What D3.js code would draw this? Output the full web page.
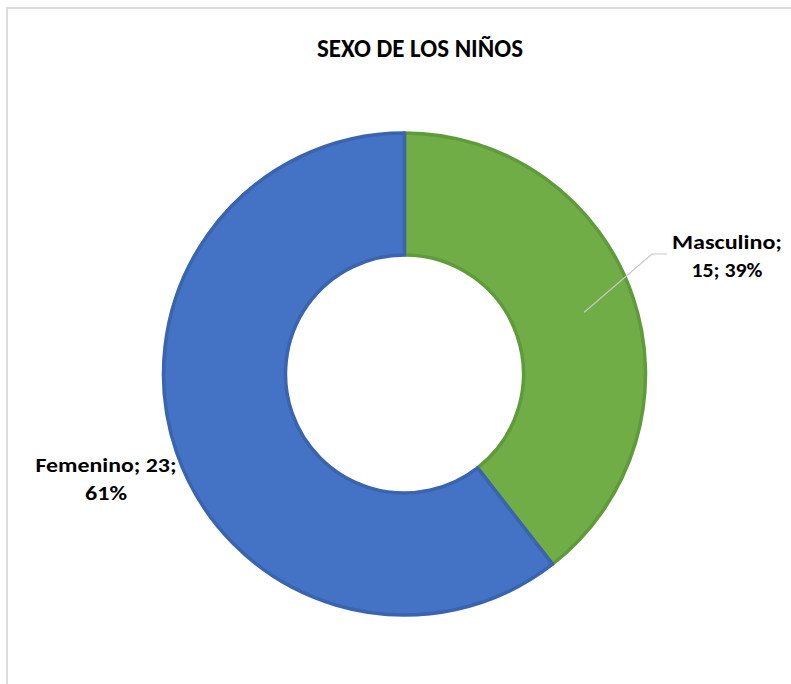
<!DOCTYPE html>
<html>
<head>
<meta charset="utf-8">
<script src="https://cdn.jsdelivr.net/npm/d3@7"></script>
<style>
  html, body { margin: 0; padding: 0; background: #ffffff; }
  svg { display: block; }
</style>
</head>
<body>
<script>
// Sexo de los niños: conteo por categoría
const categories = ["Masculino", "Femenino"];
const values = [15, 23];
const colors = ["#70ad47", "#4472c4"];
const strokes = ["#5f9a3b", "#3a64ae"];
const title = "SEXO DE LOS NIÑOS";

const W = 791, H = 684;
const cx = 404.5, cy = 374;
const outerR = 241, innerR = 119;

const svg = d3.select("body").append("svg")
  .attr("width", W).attr("height", H);

// chart area frame
svg.append("rect")
  .attr("x", 7).attr("y", 8)
  .attr("width", W + 10).attr("height", H + 10)
  .attr("fill", "#ffffff")
  .attr("stroke", "#dcdcdc").attr("stroke-width", 2);

const fontFamily = "Carlito, Calibri, 'Open Sans', 'Liberation Sans', sans-serif";

svg.append("text")
  .attr("x", 420).attr("y", 57)
  .attr("text-anchor", "middle")
  .attr("font-family", fontFamily)
  .attr("font-weight", "bold")
  .attr("font-size", 26.5)
  .attr("textLength", 206).attr("lengthAdjust", "spacingAndGlyphs")
  .attr("fill", "#000000")
  .text(title);

const total = d3.sum(values);
const data = categories.map((c, i) => ({ name: c, value: values[i], i }));

const pie = d3.pie().sort(null).value(d => d.value);
const arc = d3.arc().innerRadius(innerR).outerRadius(outerR);
const arcs = pie(data);

const g = svg.append("g").attr("transform", `translate(${cx},${cy})`);

g.selectAll("path.slice")
  .data(arcs)
  .join("path")
  .attr("class", "slice")
  .attr("d", arc)
  .attr("fill", d => colors[d.data.i])
  .attr("stroke", d => strokes[d.data.i])
  .attr("stroke-width", 3.5)
  .attr("stroke-linejoin", "round");

// data labels: "Nombre; valor; porcentaje"
const pct = v => Math.round(v / total * 100) + "%";
const labelCfg = [
  { x: 727, y: 249, lines: [`${categories[0]};`, `${values[0]}; ${pct(values[0])}`], widths: [110, 71] },
  { x: 106, y: 472, lines: [`${categories[1]}; ${values[1]};`, `${pct(values[1])}`], widths: [141, 42] }
];

// leader line for the masculine label
const mArc = arcs[0];
const mid = (mArc.startAngle + mArc.endAngle) / 2;
const rIn = (innerR + outerR) / 2 + 10;
const p0 = [cx + Math.sin(mid) * rIn, cy - Math.cos(mid) * rIn];
svg.append("polyline")
  .attr("points", [[p0[0], p0[1]], [652, 254], [667, 254]].map(p => p.join(",")).join(" "))
  .attr("fill", "none")
  .attr("stroke", "#c8c8c8")
  .attr("stroke-width", 1.2);

labelCfg.forEach(cfg => {
  cfg.lines.forEach((line, k) => {
    svg.append("text")
      .attr("x", cfg.x).attr("y", cfg.y + k * 28)
      .attr("text-anchor", "middle")
      .attr("font-family", fontFamily)
      .attr("font-weight", "bold")
      .attr("font-size", 21)
      .attr("textLength", cfg.widths[k]).attr("lengthAdjust", "spacingAndGlyphs")
      .attr("fill", "#000000")
      .text(line);
  });
});
</script>
</body>
</html>
